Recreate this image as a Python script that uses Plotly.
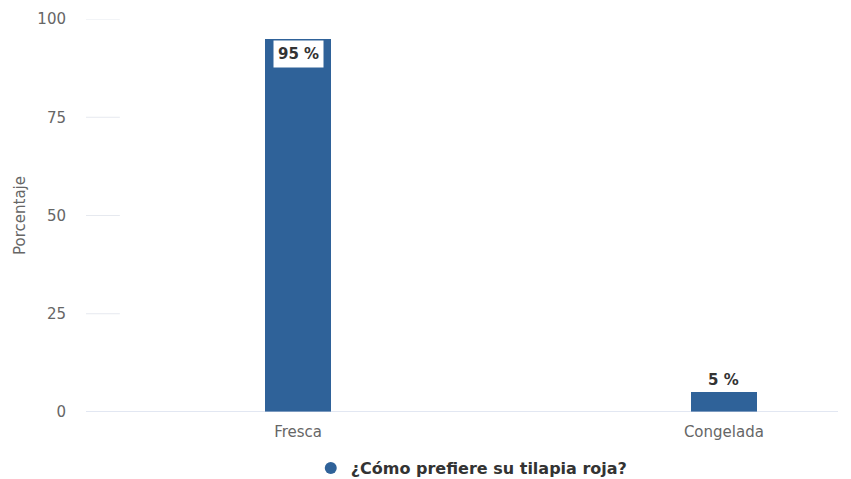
import plotly.graph_objects as go

categories = ["Fresca", "Congelada"]
values = [95, 5]
value_labels = ["95 %", "5 %"]
series_name = "¿Cómo prefiere su tilapia roja?"
y_ticks = [0, 25, 50, 75, 100]

BAR_COLOR = "#2f6299"
FONT = "DejaVu Sans"

fig = go.Figure()
fig.add_trace(go.Bar(
    x=[0, 1],
    y=values,
    name=series_name,
    marker=dict(color=BAR_COLOR, line=dict(width=0)),
    width=0.155,
    showlegend=False,
))
# legend entry with a round marker
fig.add_trace(go.Scatter(
    x=[None], y=[None], mode="markers", name=series_name,
    marker=dict(color=BAR_COLOR, size=15, symbol="circle"),
))

# value labels: first sits inside the bar top in a white box, second above the bar
for i, (v, lab) in enumerate(zip(values, value_labels)):
    if v > 50:
        fig.add_annotation(x=i, y=v, xref="x", yref="y", text=f"<b>{lab}</b>",
                           showarrow=False, yanchor="top", yshift=-1,
                           bgcolor="white", borderpad=4,
                           font=dict(family=FONT, size=15, color="#333333"))
    else:
        fig.add_annotation(x=i, y=v, xref="x", yref="y", text=f"<b>{lab}</b>",
                           showarrow=False, yanchor="bottom", yshift=1,
                           font=dict(family=FONT, size=15, color="#333333"))

# short grid marks near the y axis
for t in y_ticks[1:]:
    fig.add_shape(type="line", xref="paper", yref="y", x0=0, x1=0.045, y0=t, y1=t,
                  line=dict(color="#e6e9ef", width=1), layer="below")
# baseline
fig.add_shape(type="line", xref="paper", yref="y", x0=0, x1=1, y0=0, y1=0,
              line=dict(color="#c5d0e6", width=1.2), layer="above")

fig.update_layout(
    width=851, height=479,
    margin=dict(l=86, r=13, t=19, b=67, autoexpand=False),
    paper_bgcolor="white", plot_bgcolor="white",
    font=dict(family=FONT, color="#666666", size=15),
    bargap=0,
    legend=dict(orientation="h", x=0.513, xanchor="center",
                yref="container", y=0.023, yanchor="middle",
                font=dict(family=FONT, size=16, color="#333333", weight="bold"),
                itemsizing="constant"),
    xaxis=dict(
        range=[-0.498, 1.268],
        tickmode="array", tickvals=[0, 1], ticktext=categories,
        showgrid=False, zeroline=False, showline=False,
        ticks="", ticklabelstandoff=9,
        tickfont=dict(family=FONT, size=15, color="#666666"),
    ),
    yaxis=dict(
        range=[0, 100],
        tickmode="array", tickvals=y_ticks,
        showgrid=False, zeroline=False, showline=False,
        ticks="", ticklabelstandoff=19,
        tickfont=dict(family=FONT, size=15, color="#666666"),
        title=dict(text="Porcentaje", font=dict(family=FONT, size=15, color="#666666"), standoff=8),
    ),
)

fig.write_html("out.html")
